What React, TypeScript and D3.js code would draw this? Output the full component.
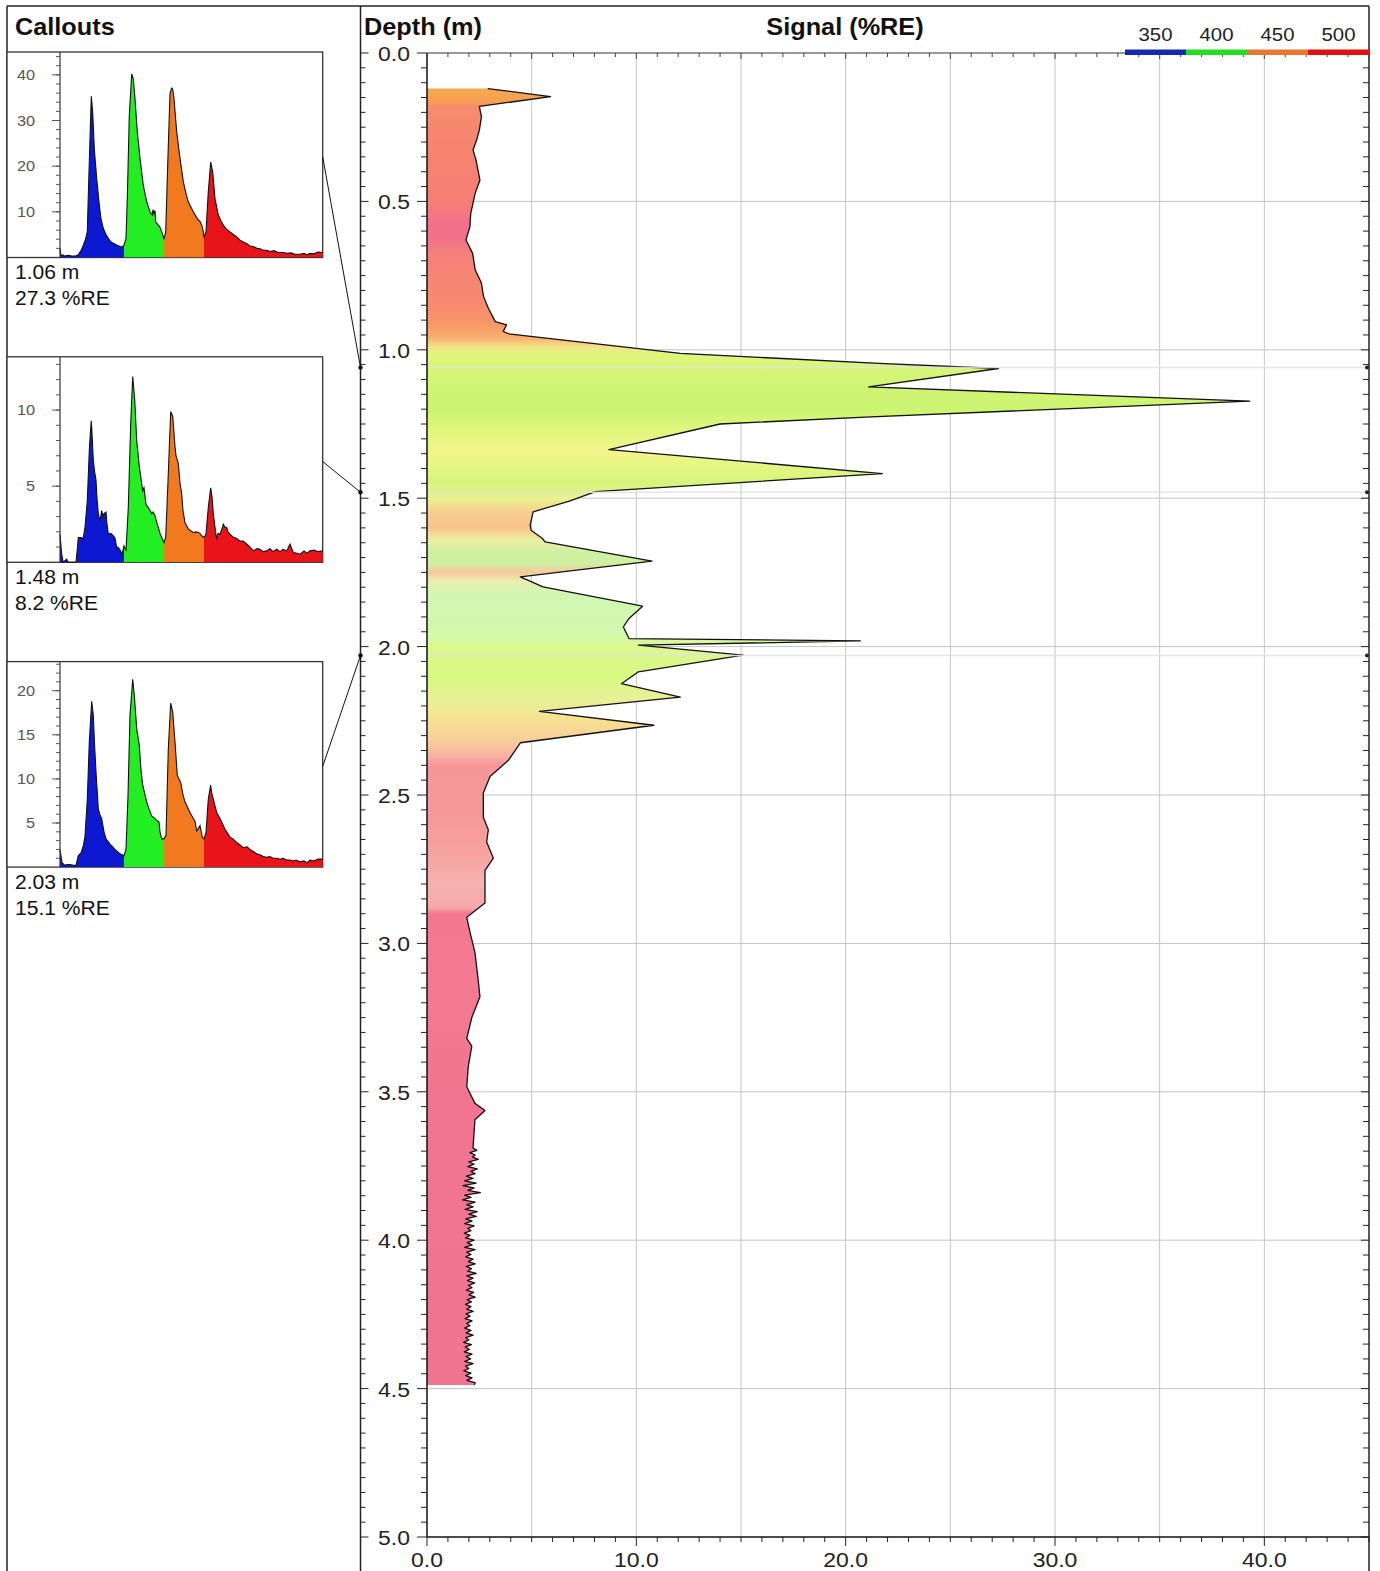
import React from 'react';
import * as d3 from 'd3';

const FONT = '"Liberation Sans", Arial, Helvetica, sans-serif';

// ---------- main log: [depth (m), signal (%RE)] ----------
const profileUpper: [number, number][] = [
  [0.12, 2.9], [0.147, 5.9], [0.18, 2.5], [0.215, 2.6], [0.26, 2.5], [0.293, 2.37], [0.327, 2.2],
  [0.36, 2.34], [0.4, 2.45], [0.428, 2.53], [0.473, 2.3], [0.54, 2.09], [0.585, 2.05], [0.63, 1.86],
  [0.675, 2.18], [0.73, 2.3], [0.775, 2.6], [0.82, 2.7], [0.86, 2.93], [0.905, 3.26], [0.916, 3.8],
  [0.938, 3.64], [0.946, 3.9], [1.012, 12.1], [1.046, 21.6], [1.063, 27.3], [1.125, 21.1],
  [1.173, 39.3], [1.226, 21.2], [1.25, 14.0], [1.336, 8.69], [1.417, 21.75], [1.478, 8.05],
  [1.51, 6.8], [1.546, 5.07], [1.59, 4.93], [1.608, 4.97], [1.635, 5.5], [1.647, 5.64],
  [1.712, 10.75], [1.765, 4.46], [1.799, 5.54], [1.864, 10.3], [1.905, 9.65], [1.934, 9.38],
  [1.973, 9.65], [1.981, 20.7], [1.995, 10.1], [2.029, 15.1], [2.085, 10.1], [2.125, 9.29],
  [2.17, 12.1], [2.218, 5.37], [2.265, 10.84], [2.324, 4.46], [2.383, 3.89], [2.438, 3.01],
  [2.493, 2.69], [2.575, 2.69], [2.617, 2.93], [2.658, 2.85], [2.713, 3.17], [2.754, 2.77],
  [2.864, 2.77], [2.912, 1.9], [2.961, 2.05], [3.03, 2.29], [3.126, 2.45], [3.18, 2.53],
  [3.25, 2.14], [3.32, 1.9], [3.346, 2.14], [3.415, 1.97], [3.483, 1.9], [3.539, 2.29],
  [3.563, 2.77], [3.594, 2.29], [3.677, 2.21],
];

const profileNoisy: [number, number][] = [
  [3.69, 2.2], [3.697, 2.38], [3.705, 2.05], [3.713, 2.3], [3.72, 2.18], [3.728, 2.45], [3.736, 2.0],
  [3.744, 2.25], [3.752, 1.95], [3.76, 2.4], [3.768, 2.1], [3.776, 2.3], [3.784, 1.88], [3.792, 2.2],
  [3.8, 1.8], [3.808, 2.35], [3.816, 1.72], [3.824, 2.25], [3.832, 1.95], [3.84, 2.55], [3.848, 1.8],
  [3.856, 2.1], [3.864, 1.7], [3.872, 2.3], [3.88, 1.9], [3.888, 2.2], [3.896, 1.82], [3.904, 2.4],
  [3.912, 2.0], [3.92, 2.35], [3.928, 1.85], [3.936, 2.15], [3.944, 1.8], [3.952, 2.25], [3.96, 1.95],
  [3.968, 2.1], [3.976, 1.78], [3.984, 2.05], [3.992, 1.85], [4.0, 2.25], [4.008, 1.92], [4.016, 2.15],
  [4.024, 1.8], [4.032, 2.3], [4.04, 1.9], [4.048, 2.1], [4.056, 1.85], [4.064, 2.2], [4.072, 1.97],
  [4.08, 2.3], [4.088, 1.88], [4.096, 2.12], [4.104, 1.95], [4.112, 2.35], [4.12, 1.9], [4.128, 2.2],
  [4.136, 1.93], [4.144, 2.28], [4.152, 1.98], [4.16, 2.15], [4.168, 1.88], [4.176, 2.22], [4.184, 2.0],
  [4.192, 2.3], [4.2, 1.92], [4.208, 2.12], [4.216, 1.84], [4.224, 2.1], [4.232, 1.9], [4.24, 2.2],
  [4.248, 1.86], [4.256, 2.06], [4.264, 1.82], [4.272, 2.15], [4.28, 1.9], [4.288, 2.05], [4.296, 1.8],
  [4.304, 2.1], [4.312, 1.87], [4.32, 2.2], [4.328, 1.85], [4.336, 2.0], [4.344, 1.75], [4.352, 2.12],
  [4.36, 1.82], [4.368, 2.02], [4.376, 1.78], [4.384, 2.15], [4.392, 1.86], [4.4, 2.08], [4.408, 1.8],
  [4.416, 2.2], [4.424, 1.84], [4.432, 2.0], [4.44, 1.76], [4.448, 2.1], [4.456, 1.85], [4.464, 2.15],
  [4.472, 1.9], [4.48, 2.3], [4.488, 2.25],
];

// fill colour by depth (LIF colour of each reading)
const colorStops: [number, string][] = [
  [0.12, '#f5a94e'], [0.165, '#f6a052'], [0.18, '#f78c6c'], [0.3, '#f6856f'], [0.5, '#f67f74'],
  [0.56, '#f37288'], [0.62, '#f27089'], [0.68, '#f5827a'], [0.85, '#f78a6e'], [0.92, '#f89a68'],
  [0.96, '#f8b070'], [0.99, '#f4e488'], [1.02, '#dcf67c'], [1.1, '#d2f574'], [1.2, '#ccf470'],
  [1.28, '#e2f67e'], [1.34, '#f2f68c'], [1.38, '#e8f682'], [1.45, '#d4f47c'], [1.5, '#e8f290'],
  [1.55, '#f8cc8e'], [1.6, '#f8c48c'], [1.64, '#eef0a0'], [1.68, '#cef0a2'], [1.72, '#d0f0a0'],
  [1.75, '#f8c8a0'], [1.78, '#eaf0b0'], [1.82, '#d2f6b2'], [1.95, '#d0f8ae'], [2.0, '#dcf890'],
  [2.1, '#d8f880'], [2.18, '#e8f098'], [2.25, '#f8e090'], [2.32, '#f8cc9c'], [2.37, '#f8b0a0'],
  [2.4, '#f7969a'], [2.6, '#f6999a'], [2.72, '#f6a6a2'], [2.8, '#f7b2b0'], [2.88, '#f6a8a8'],
  [2.9, '#f27890'], [3.2, '#f27a92'], [3.5, '#f17590'], [4.5, '#f07490'],
];

// ---------- callouts ----------
const calloutDepths = [1.06, 1.48, 2.03];
const calloutSignals = [27.3, 8.2, 15.1];
const calloutYMax = [45, 13.5, 23.3];
const calloutTicks = [[10, 20, 30, 40], [5, 10], [5, 10, 15, 20]];
const calloutMinorStep = [2, 1, 1];

// channel boundaries (time samples) and colours: 350 / 400 / 450 / 500 nm
const channelBounds = [0, 64, 104, 144, 262.7];
const channelNames = ['350', '400', '450', '500'];
const channelColors = ['#0c18d2', '#22ee22', '#f27a1e', '#e8141a'];
const legendColors = ['#1428b0', '#22dd22', '#e8782e', '#e01010'];

const waveform1: [number, number][] = [
  [0, 2.0], [1, 0.4], [3, 0.6], [5, 0.3], [8, 0.5], [12, 0.3], [16, 0.4], [18.3, 0.6], [21, 1.5],
  [23.3, 2.7], [25.5, 4.0], [27.3, 5.6], [28.3, 13.6], [30, 26], [31.3, 35.3], [32.7, 31.8],
  [34.3, 23.8], [36.7, 17.3], [39.3, 11.5], [41, 8.5], [43.3, 6.4], [46, 5.0], [48.3, 4.2],
  [51, 3.4], [53.3, 3.1], [57, 2.7], [60, 2.4], [62, 2.3], [64, 2.7], [66, 4.2], [67.3, 12.9],
  [69.3, 31.1], [71.7, 40.2], [73.3, 39.1], [75, 34.8], [77.3, 27.5], [80, 21.7], [83.3, 15.8],
  [86.7, 12.2], [90, 10], [92.3, 9.3], [93, 10.5], [94, 9.6], [95, 10.3], [95.7, 7.8], [98.3, 7.1],
  [100, 6.6], [101.7, 5.6], [103, 4.8], [104, 4.0], [105.7, 5.6], [107.7, 20.2], [110, 35.9],
  [111.5, 37.1], [112.7, 36.9], [114, 34.8], [116.7, 27.5], [120, 21.7], [123.3, 16.6], [126, 14.0],
  [128.3, 12.2], [131, 11.0], [133.3, 10], [136, 9.0], [138.3, 8.2], [140, 7.9], [141.7, 7.1],
  [143, 6.0], [144, 4.5], [146, 5.6], [148.3, 14.4], [150.7, 20.9], [152.7, 18.7], [155, 12.9],
  [158.3, 9.3], [161, 8.0], [163.3, 7.1], [166, 6.3], [170, 5.6], [173, 5.1], [176.7, 4.5],
  [180, 3.8], [183.3, 3.4], [187, 3.0], [190, 2.5], [193.3, 2.4], [197, 2.0], [200, 1.9],
  [203, 1.6], [206.7, 1.6], [210, 1.3], [214, 1.5], [218, 1.1], [223.3, 1.1], [227, 0.9],
  [231, 1.0], [235, 0.7], [240, 0.7], [244, 0.9], [247, 0.6], [250, 0.9], [254, 0.8], [258, 1.2],
  [262.7, 1.1],
];

const waveform2: [number, number][] = [
  [0, 1.85], [1.7, 0.53], [3.3, 0], [5, 0.1], [6.7, 0.2], [8, 0], [10, 0], [16, 0], [17.5, 1.0],
  [18.3, 1.63], [21.7, 1.63], [23, 1.5], [25, 2.3], [27.3, 4.05], [29.3, 7.36], [30.5, 8.6],
  [31.3, 9.3], [32, 8.5], [33.3, 6.7], [34.5, 6.0], [36, 5.4], [37, 4.2], [38.3, 3.2], [40, 2.7],
  [41.7, 3.4], [43, 3.0], [44, 3.2], [46, 3.3], [47, 2.5], [48.3, 1.85], [51, 1.9], [53.3, 1.74],
  [55, 1.6], [56.7, 0.97], [58, 1.0], [60.7, 0.75], [62, 0.5], [64, 1.08], [66, 0.75], [68.3, 3.6],
  [70.7, 9.1], [72.7, 12.2], [74.7, 10.7], [76.7, 8.0], [79.3, 6.3], [82.7, 4.7], [84, 4.9],
  [86, 3.8], [88.3, 3.6], [90, 3.4], [91.7, 3.2], [93, 3.3], [95, 3.06], [96, 2.8], [98.3, 2.3],
  [100, 1.9], [101.7, 1.63], [104, 1.3], [105.7, 1.63], [108.3, 5.8], [110.7, 9.9], [112.7, 9.6],
  [115, 7.6], [116, 7.0], [118.3, 6.5], [120, 5.2], [121.7, 4.5], [123, 3.4], [125, 2.6],
  [128.3, 2.2], [130, 2.1], [133.3, 1.96], [136, 2.0], [138.3, 1.96], [140, 1.9], [141.7, 1.74],
  [144, 1.63], [146, 1.85], [148.3, 3.6], [150.7, 4.9], [152, 4.3], [153.3, 3.2], [155, 2.3],
  [156.7, 1.5], [158, 1.9], [160, 1.85], [162, 2.2], [163.3, 2.5], [165, 2.3], [166.7, 2.3],
  [168, 2.0], [170, 1.85], [173.3, 1.63], [176, 1.6], [180, 1.4], [183, 1.4], [186.7, 1.2],
  [190, 1.0], [193.3, 0.75], [197, 0.9], [200, 0.86], [203, 0.7], [206.7, 0.75], [210, 0.9],
  [213, 0.7], [216.7, 0.86], [220, 0.7], [223, 0.85], [226.7, 0.75], [230, 1.2], [233.3, 0.64],
  [237, 0.6], [240, 0.53], [244, 0.75], [247, 0.6], [250, 0.75], [254, 0.8], [258, 0.7],
  [262.7, 0.75],
];

const waveform3: [number, number][] = [
  [0, 2.0], [2, 0.5], [5, 0.2], [7, 0.3], [10, 0.3], [13, 0.2], [16, 0.2], [18.3, 1.3], [21, 1.6],
  [23.3, 2.4], [25, 3.5], [27.3, 7.7], [29.3, 14.2], [31.7, 18.8], [33.3, 17.2], [34.5, 14.0],
  [36, 10.8], [38.3, 6.6], [40, 5.9], [41.7, 5.5], [44, 4.0], [46, 3.2], [50, 2.6], [55, 2.0],
  [60, 1.5], [64, 1.3], [66, 2.0], [68, 8.1], [70, 17.2], [72.7, 21.3], [74.3, 19.5], [76.7, 15.7],
  [79.3, 13.8], [81, 11.0], [82.7, 9.3], [86.7, 7.4], [89, 6.6], [91.7, 5.8], [94, 5.6],
  [96.7, 5.3], [99, 5.1], [100, 4.0], [101.7, 3.2], [104, 3.2], [106, 3.6], [108.3, 13.4],
  [110.7, 18.6], [112.7, 17.6], [115, 14.2], [117.3, 10.4], [120.7, 9.6], [123, 8.2], [125, 7.4],
  [130, 6.2], [133.3, 5.5], [135, 5.2], [136.7, 4.1], [138, 4.3], [140, 4.7], [142.3, 3.4],
  [144, 3.2], [146, 3.9], [148.3, 7.7], [150.7, 9.3], [151.5, 8.5], [153.3, 7.7], [156.7, 6.2],
  [160, 5.5], [165, 4.3], [170, 3.4], [173, 3.2], [176.7, 2.8], [180, 2.5], [183.3, 2.2],
  [187, 2.3], [190, 2.0], [193, 1.8], [196.7, 1.5], [200, 1.4], [203, 1.2], [206.7, 1.1],
  [210, 1.2], [213, 1.0], [216.7, 1.0], [220, 0.9], [223, 1.0], [226.7, 0.8], [230, 0.8],
  [233, 0.7], [236, 0.8], [240, 0.6], [244, 0.7], [247, 0.5], [250, 0.8], [254, 0.7], [258, 0.9],
  [262.7, 0.9],
];

const waveforms = [waveform1, waveform2, waveform3];

// ---------- helpers ----------
function Txt(props: {
  x: number; y: number; size: number; anchor?: string; weight?: string | number;
  fill?: string; sx?: number; children: React.ReactNode;
}) {
  const { x, y, size, anchor = 'start', weight = 'normal', fill = '#111', sx = 1.1, children } = props;
  return (
    <text
      transform={`translate(${x},${y}) scale(${sx},1)`}
      textAnchor={anchor as any}
      fontSize={size}
      fontWeight={weight as any}
      fill={fill}
      fontFamily={FONT}
    >
      {children}
    </text>
  );
}

const PANEL_L = 7;
const DIVIDER = 360.5;
const FRAME_TOP = 6;
const PLOT_L = 427;
const PLOT_R = 1369;
const PLOT_T = 53;
const PLOT_B = 1537;
const BOX_R = 322.7;
const BOX_AXIS = 60;
const BOX_H = 205.5;
const BOX_GAP = 304.8;
const BOX_TOP0 = 52;

function Callout({ i, yDepth }: { i: number; yDepth: number }) {
  const top = BOX_TOP0 + i * BOX_GAP;
  const bottom = top + BOX_H;
  const wave = waveforms[i];
  const xs = d3.scaleLinear().domain([0, 262.7]).range([BOX_AXIS, BOX_R]);
  const ys = d3.scaleLinear().domain([0, calloutYMax[i]]).range([bottom, top]);
  const area = d3.area<[number, number]>().x(d => xs(d[0])).y0(bottom).y1(d => ys(d[1]));
  const line = d3.line<[number, number]>().x(d => xs(d[0])).y(d => ys(d[1]));
  const minor = d3.range(calloutMinorStep[i], calloutYMax[i], calloutMinorStep[i]);
  const areaD = area(wave) || '';
  return (
    <g>
      <defs>
        {channelNames.map((n, k) => (
          <clipPath id={`clip-${i}-${k}`} key={n}>
            <rect x={xs(channelBounds[k])} y={top} width={xs(channelBounds[k + 1]) - xs(channelBounds[k])} height={BOX_H} />
          </clipPath>
        ))}
      </defs>
      <rect x={PANEL_L} y={top} width={BOX_R - PANEL_L} height={BOX_H} fill="#fff" stroke="#333" strokeWidth={1.3} />
      {channelNames.map((n, k) => (
        <path key={n} d={areaD} fill={channelColors[k]} clipPath={`url(#clip-${i}-${k})`} />
      ))}
      <path d={line(wave) || ''} fill="none" stroke="#111" strokeWidth={1.1} />
      <line x1={BOX_AXIS} x2={BOX_AXIS} y1={top} y2={bottom} stroke="#333" strokeWidth={1.2} />
      {minor.map(v => (
        <line key={`m${v}`} x1={BOX_AXIS - 4} x2={BOX_AXIS} y1={ys(v)} y2={ys(v)} stroke="#555" strokeWidth={1} />
      ))}
      {calloutTicks[i].map(v => (
        <g key={`t${v}`}>
          <line x1={BOX_AXIS - 8} x2={BOX_AXIS} y1={ys(v)} y2={ys(v)} stroke="#555" strokeWidth={1} />
          <Txt x={35} y={ys(v) + 5} size={14.5} anchor="end" fill="#555" sx={1.12}>{v}</Txt>
        </g>
      ))}
      <Txt x={15} y={bottom + 21.5} size={19.5} fill="#111" sx={1.08}>{`${calloutDepths[i].toFixed(2)} m`}</Txt>
      <Txt x={15} y={bottom + 47.5} size={19.5} fill="#111" sx={1.08}>{`${calloutSignals[i].toFixed(1)} %RE`}</Txt>
      <line x1={BOX_R} y1={(top + bottom) / 2 + 2} x2={DIVIDER} y2={yDepth} stroke="#111" strokeWidth={1} />
      <circle cx={DIVIDER} cy={yDepth} r={2.2} fill="#111" />
    </g>
  );
}

export default function App() {
  const W = 1380, H = 1571;
  const x = d3.scaleLinear().domain([0, 45]).range([PLOT_L, PLOT_R]);
  const y = d3.scaleLinear().domain([0, 5]).range([PLOT_T, PLOT_B]);
  const profile = [...profileUpper, ...profileNoisy];
  const area = d3.area<[number, number]>().y(d => y(d[0])).x0(x(0)).x1(d => x(d[1]));
  const line = d3.line<[number, number]>().y(d => y(d[0])).x(d => x(d[1]));

  const gridX = x.ticks(9).filter(v => v > 0 && v < 45);
  const gridY = y.ticks(10).filter(v => v > 0 && v < 5);
  const depthMajor = y.ticks(10);
  const depthMinor = y.ticks(100);
  const xMinor = x.ticks(45);
  const xLabels = [0, 10, 20, 30, 40];

  const legendScale = d3.scaleLinear().domain([325, 525]).range([1125, PLOT_R]);
  const legendCenters = [350, 400, 450, 500];

  return (
    <svg width={W} height={H} style={{ position: 'absolute', left: 0, top: 0, display: 'block', background: '#fff' }}>
      <defs>
        <linearGradient id="depthGrad" gradientUnits="userSpaceOnUse" x1={0} x2={0} y1={y(0)} y2={y(5)}>
          {colorStops.map(([d, c], k) => (
            <stop key={k} offset={d / 5} stopColor={c} />
          ))}
        </linearGradient>
      </defs>
      <rect x={0} y={0} width={W} height={H} fill="#fff" />

      {/* grid */}
      {gridX.map(v => (
        <line key={`gx${v}`} x1={x(v)} x2={x(v)} y1={PLOT_T} y2={PLOT_B} stroke="#c4c4c4" strokeWidth={1} />
      ))}
      {gridY.map(v => (
        <line key={`gy${v}`} x1={PLOT_L} x2={PLOT_R} y1={y(v)} y2={y(v)} stroke="#c4c4c4" strokeWidth={1} />
      ))}

      {/* signal fill + outline */}
      <path d={area(profile) || ''} fill="url(#depthGrad)" />
      <path d={line(profile) || ''} fill="none" stroke="#111" strokeWidth={1.3} strokeLinejoin="round" />

      {/* callout depth markers across plot */}
      {calloutDepths.map(d => (
        <g key={`mk${d}`}>
          <line x1={PLOT_L} x2={PLOT_R} y1={y(d)} y2={y(d)} stroke="#e2e2e2" strokeWidth={1.5} opacity={0.85} />
          <circle cx={PLOT_R - 2} cy={y(d)} r={2} fill="#222" />
        </g>
      ))}

      {/* frame */}
      <line x1={PANEL_L} x2={PLOT_R} y1={FRAME_TOP} y2={FRAME_TOP} stroke="#222" strokeWidth={1.5} />
      <line x1={PANEL_L} x2={PANEL_L} y1={FRAME_TOP} y2={H} stroke="#222" strokeWidth={1.5} />
      <line x1={DIVIDER} x2={DIVIDER} y1={FRAME_TOP} y2={H} stroke="#222" strokeWidth={1.5} />
      <line x1={PLOT_R} x2={PLOT_R} y1={FRAME_TOP} y2={H} stroke="#222" strokeWidth={1.5} />

      {/* plot axes */}
      <line x1={PLOT_L} x2={PLOT_L} y1={PLOT_T} y2={PLOT_B} stroke="#111" strokeWidth={1.5} />
      <line x1={PLOT_L} x2={PLOT_R} y1={PLOT_B} y2={PLOT_B} stroke="#111" strokeWidth={1.5} />
      <line x1={PLOT_L} x2={PLOT_R} y1={PLOT_T} y2={PLOT_T} stroke="#333" strokeWidth={1} />

      {/* depth ticks */}
      {depthMinor.map(v => {
        const major = depthMajor.some(m => Math.abs(m - v) < 1e-6);
        return (
          <g key={`dt${v}`}>
            <line x1={PLOT_L - (major ? 10 : 6)} x2={PLOT_L} y1={y(v)} y2={y(v)} stroke="#222" strokeWidth={1} />
            <line x1={DIVIDER} x2={DIVIDER + (major ? 8 : 5)} y1={y(v)} y2={y(v)} stroke="#222" strokeWidth={1} />
            <line x1={PLOT_R - (major ? 8 : 6)} x2={PLOT_R} y1={y(v)} y2={y(v)} stroke="#222" strokeWidth={1} />
          </g>
        );
      })}
      {depthMajor.map(v => (
        <Txt key={`dl${v}`} x={410} y={y(v) + 8} size={20.5} anchor="end" fill="#222" sx={1.12}>{v.toFixed(1)}</Txt>
      ))}

      {/* x ticks */}
      {xMinor.map(v => {
        const major = v % 10 === 0;
        return (
          <g key={`xt${v}`}>
            <line x1={x(v)} x2={x(v)} y1={PLOT_B} y2={PLOT_B + (major ? 9 : 5)} stroke="#222" strokeWidth={1} />
            <line x1={x(v)} x2={x(v)} y1={PLOT_T} y2={PLOT_T + (v % 5 === 0 ? 6 : 4)} stroke="#444" strokeWidth={1} />
          </g>
        );
      })}
      {xLabels.map(v => (
        <Txt key={`xl${v}`} x={x(v)} y={1567} size={20.5} anchor="middle" fill="#222" sx={1.12}>{v.toFixed(1)}</Txt>
      ))}

      {/* titles */}
      <Txt x={15} y={35} size={23} weight="bold" fill="#111" sx={1.1}>Callouts</Txt>
      <Txt x={364} y={35} size={23} weight="bold" fill="#111" sx={1.1}>Depth (m)</Txt>
      <Txt x={845} y={35} size={23} weight="bold" fill="#111" anchor="middle" sx={1.1}>Signal (%RE)</Txt>

      {/* legend */}
      {channelNames.map((n, k) => (
        <g key={`lg${n}`}>
          <rect x={legendScale(legendCenters[k] - 25)} y={49.5} width={legendScale(legendCenters[k] + 25) - legendScale(legendCenters[k] - 25)} height={5.5} fill={legendColors[k]} />
          <Txt x={legendScale(legendCenters[k])} y={41} size={18.5} anchor="middle" fill="#222" sx={1.1}>{n}</Txt>
        </g>
      ))}

      {/* callouts */}
      {calloutDepths.map((d, i) => (
        <Callout key={`co${i}`} i={i} yDepth={y(d)} />
      ))}
    </svg>
  );
}
